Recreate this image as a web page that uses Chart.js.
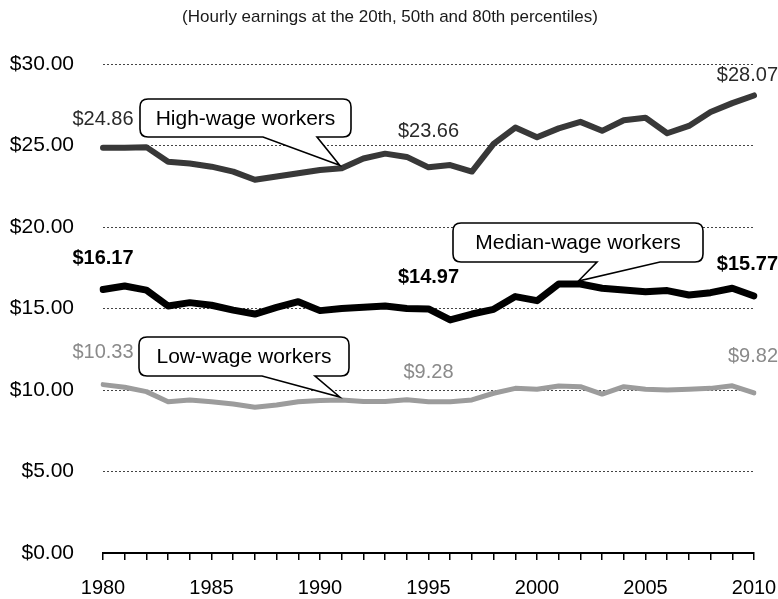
<!DOCTYPE html>
<html><head><meta charset="utf-8">
<script src="https://cdn.jsdelivr.net/npm/chart.js@4/dist/chart.umd.min.js"></script>
<style>html,body{margin:0;padding:0;background:#fff;}#wrap{width:778px;height:599px;}</style>
</head><body><div id="wrap"><canvas id="c" width="778" height="599"></canvas></div>
<script>
// ---- data ----
const years = [1980,1981,1982,1983,1984,1985,1986,1987,1988,1989,1990,1991,1992,1993,1994,1995,1996,1997,1998,1999,2000,2001,2002,2003,2004,2005,2006,2007,2008,2009,2010];
const highWage   = [24.86,24.86,24.90,24.00,23.90,23.70,23.40,22.90,23.10,23.30,23.50,23.60,24.20,24.50,24.30,23.66,23.80,23.40,25.10,26.10,25.50,26.05,26.45,25.90,26.55,26.70,25.75,26.20,27.05,27.60,28.07];
const medianWage = [16.17,16.38,16.13,15.15,15.36,15.20,14.90,14.66,15.07,15.42,14.87,15.00,15.07,15.15,15.00,14.97,14.30,14.66,14.95,15.73,15.48,16.50,16.50,16.24,16.13,16.03,16.10,15.83,15.97,16.24,15.77];
const lowWage    = [10.33,10.17,9.90,9.28,9.39,9.28,9.14,8.94,9.08,9.28,9.35,9.39,9.30,9.30,9.40,9.28,9.28,9.39,9.80,10.10,10.05,10.25,10.20,9.75,10.20,10.04,10.00,10.04,10.10,10.26,9.82];
const yTickValues = [0,5,10,15,20,25,30];
const labeledYears = [1980,1995,2010];
const seriesNames = ["High-wage workers","Median-wage workers","Low-wage workers"];
const chartTitle = "(Hourly earnings at the 20th, 50th and 80th percentiles)";

// ---- styles ----
const FONT = "'Liberation Sans', Arial, Helvetica, sans-serif";
const lineColors = ['#383838','#000000','#9c9c9c'];
const lineWidths = [6, 7, 5];
const labelStyles = [
  {color:'#2a2a2a', weight:'normal', dy:[-28,-36,-20]},
  {color:'#000000', weight:'bold',   dy:[-31,-32,-31]},
  {color:'#8a8a8a', weight:'normal', dy:[-32,-29,-36]}
];
// callout boxes: pixel boxes and pointer bases, tip anchored to a data point
const callouts = [
  {series:0, year:1991, box:[140,99,211,38],  base:[263,317]},
  {series:1, year:2002, box:[453,223,250,39], base:[597,660]},
  {series:2, year:1991, box:[139,337,210,39], base:[262,315]}
];

const seriesData = [highWage, medianWage, lowWage];

function roundRectCallout(ctx, x, y, w, h, r, b1, b2, tx, ty){
  ctx.beginPath();
  ctx.moveTo(x + r, y);
  ctx.lineTo(x + w - r, y);
  ctx.quadraticCurveTo(x + w, y, x + w, y + r);
  ctx.lineTo(x + w, y + h - r);
  ctx.quadraticCurveTo(x + w, y + h, x + w - r, y + h);
  ctx.lineTo(b2, y + h);
  ctx.lineTo(tx, ty);
  ctx.lineTo(b1, y + h);
  ctx.lineTo(x + r, y + h);
  ctx.quadraticCurveTo(x, y + h, x, y + h - r);
  ctx.lineTo(x, y + r);
  ctx.quadraticCurveTo(x, y, x + r, y);
  ctx.closePath();
}

const annotPlugin = {
  id: 'annot',
  afterDraw(chart){
    const ctx = chart.ctx;
    const xs = chart.scales.x, ys = chart.scales.y;
    ctx.save();
    // title
    ctx.fillStyle = '#1a1a1a';
    ctx.font = '17px ' + FONT;
    ctx.textAlign = 'center';
    ctx.textBaseline = 'middle';
    ctx.fillText(chartTitle, 390, 17);
    // value labels
    seriesData.forEach((arr, s) => {
      const st = labelStyles[s];
      labeledYears.forEach((yr, k) => {
        const i = years.indexOf(yr);
        const v = arr[i];
        let px = xs.getPixelForValue(i);
        const py = ys.getPixelForValue(v) + st.dy[k];
        ctx.font = st.weight + ' 20px ' + FONT;
        ctx.fillStyle = st.color;
        ctx.textBaseline = 'middle';
        if (k === 2) { ctx.textAlign = 'right'; px = chart.width; }
        else ctx.textAlign = 'center';
        ctx.fillText('$' + v.toFixed(2), px, py);
      });
    });
    // callouts
    callouts.forEach(c => {
      const i = years.indexOf(c.year);
      const tx = xs.getPixelForValue(i) - 2;
      const ty = ys.getPixelForValue(seriesData[c.series][i]) - 3;
      const [bx, by, bw, bh] = c.box;
      roundRectCallout(ctx, bx, by, bw, bh, 8, c.base[0], c.base[1], tx, ty);
      ctx.fillStyle = '#ffffff';
      ctx.fill();
      ctx.lineWidth = 1.6;
      ctx.strokeStyle = '#000';
      ctx.lineJoin = 'miter';
      ctx.stroke();
      ctx.fillStyle = '#000';
      ctx.font = '21px ' + FONT;
      ctx.textAlign = 'center';
      ctx.textBaseline = 'middle';
      ctx.fillText(seriesNames[c.series], bx + bw / 2, by + bh / 2 + 1);
    });
    ctx.restore();
  }
};

new Chart(document.getElementById('c'), {
  type: 'line',
  data: {
    labels: years.map(String),
    datasets: seriesData.map((arr, s) => ({
      label: seriesNames[s],
      data: arr,
      borderColor: lineColors[s],
      backgroundColor: lineColors[s],
      borderWidth: lineWidths[s],
      pointRadius: 0,
      tension: 0,
      borderJoinStyle: 'round',
      borderCapStyle: 'round'
    }))
  },
  options: {
    responsive: false,
    devicePixelRatio: 1,
    animation: false,
    layout: { padding: { top: 64, right: 24, bottom: 0, left: 0 } },
    plugins: { legend: { display: false }, tooltip: { enabled: false }, title: { display: false } },
    scales: {
      x: {
        type: 'category',
        offset: false,
        afterFit: (scale) => { scale.height = 46; scale.paddingRight = 0; scale.paddingLeft = 0; },
        grid: { drawOnChartArea: false, drawTicks: true, tickLength: 7, color: '#000', lineWidth: 1.5 },
        border: { display: true, color: '#000', width: 2 },
        ticks: {
          autoSkip: false, maxRotation: 0, minRotation: 0, padding: 16, color: '#000',
          font: { family: FONT, size: 20 },
          callback: (v, i) => (years[i] % 5 === 0 ? String(years[i]) : '')
        }
      },
      y: {
        min: 0, max: 30,
        afterFit: (scale) => { scale.width = 103; },
        afterBuildTicks: (scale) => { scale.ticks = yTickValues.map(v => ({ value: v })); },
        grid: { color: '#444', lineWidth: 1, drawTicks: false },
        border: { display: false, dash: [2, 2] },
        ticks: {
          padding: 29, color: '#000',
          font: { family: FONT, size: 21 },
          callback: (v) => '$' + Number(v).toFixed(2)
        }
      }
    }
  },
  plugins: [annotPlugin]
});
</script>
</body></html>
